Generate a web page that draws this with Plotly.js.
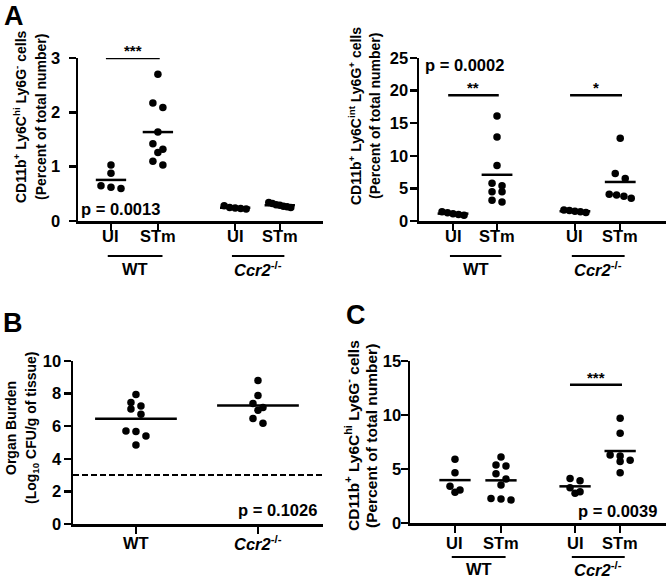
<!DOCTYPE html>
<html><head><meta charset="utf-8">
<script src="https://cdn.plot.ly/plotly-3.0.1.min.js"></script>
<style>html,body{margin:0;padding:0;background:#fff}#chart{width:666px;height:579px}</style>
</head><body><div id="chart"></div>
<script>
// ---------- DATA ----------
const catLabels = ['UI', 'STm', 'UI', 'STm'];
const groupLabels = ['WT', '<i>Ccr2</i><sup>-/-</sup>'];
const bLabels = ['WT', '<i>Ccr2</i><sup>-/-</sup>'];

// Panel A (left): CD11b+ Ly6Chi Ly6G- cells (% of total)
const a1_WT_UI  = [1.03, 0.88, 0.65, 0.62, 0.60];
const a1_WT_STm = [2.70, 2.17, 2.09, 1.64, 1.42, 1.32, 1.26, 1.10, 1.03];
const a1_KO_UI  = [0.28, 0.25, 0.24, 0.23, 0.22];
const a1_KO_STm = [0.34, 0.32, 0.30, 0.29, 0.27, 0.26, 0.25];

// Panel A (right): CD11b+ Ly6Cint Ly6G+ cells (% of total)
const a2_WT_UI  = [1.40, 1.25, 1.10, 1.00, 0.90];
const a2_WT_STm = [16.1, 12.9, 8.5, 5.8, 5.4, 4.5, 4.5, 3.2, 2.9];
const a2_KO_UI  = [1.70, 1.60, 1.50, 1.40, 1.30];
const a2_KO_STm = [12.7, 7.3, 6.5, 4.1, 4.0, 3.8, 3.5];

// Panel B: organ burden (log10 CFU/g)
const b_WT = [7.95, 7.46, 7.24, 7.06, 6.73, 5.71, 5.67, 5.40, 4.85];
const b_KO = [8.81, 7.89, 7.40, 7.14, 6.98, 6.48, 6.18];
const bDetectionLimit = 3.0;

// Panel C: CD11b+ Ly6Chi Ly6G- cells (% of total)
const c_WT_UI  = [5.90, 4.65, 3.40, 3.05, 2.85];
const c_WT_STm = [6.10, 5.37, 5.28, 4.57, 4.07, 3.52, 2.28, 2.22, 2.13];
const c_KO_UI  = [4.13, 3.92, 3.27, 2.90, 2.75];
const c_KO_STm = [9.70, 8.30, 6.30, 6.20, 5.80, 5.70, 4.65];

const pValues = ['p = 0.0013', 'p = 0.0002', 'p = 0.1026', 'p = 0.0039'];

// ---------- LAYOUT HELPERS ----------
const W = 666, H = 579;
const FONT = 'Arial, "Liberation Sans", Helvetica, sans-serif';
const px2x = p => p / W;
const px2y = p => (H - p) / H;
const bold = (size) => ({ size: size, family: FONT, color: '#000', weight: 'bold' });

const panels = [
  { ax: '',  xd: [78, 323],  yd: [58, 221],  xr: [0.283, 5.61], yr: [0, 3],  dtick: 1,
    pos: [1, 2.02, 3.7, 4.67], data: [a1_WT_UI, a1_WT_STm, a1_KO_UI, a1_KO_STm], half: 0.33,
    ticklabels: catLabels, labelY: 236, standoff: 5 },
  { ax: '2', xd: [419, 666], yd: [58, 221],  xr: [0.227, 5.84], yr: [0, 25], dtick: 5,
    pos: [1, 2, 3.77, 4.8], data: [a2_WT_UI, a2_WT_STm, a2_KO_UI, a2_KO_STm], half: 0.35,
    ticklabels: catLabels, labelY: 236, standoff: -2 },
  { ax: '3', xd: [73, 323],  yd: [361, 524], xr: [0.484, 2.533], yr: [0, 10], dtick: 2,
    pos: [1, 2], data: [b_WT, b_KO], half: 0.335,
    ticklabels: bLabels, labelY: 543, standoff: -1 },
  { ax: '4', xd: [410, 666], yd: [361, 523], xr: [0.022, 5.587], yr: [0, 15], dtick: 5,
    pos: [1, 2, 3.61, 4.59], data: [c_WT_UI, c_WT_STm, c_KO_UI, c_KO_STm], half: 0.34,
    ticklabels: catLabels, labelY: 543, standoff: -4 }
];

// simple deterministic beeswarm: rows of near-equal values spread horizontally
function swarm(vals, p) {
  const pxPerX = (p.xd[1] - p.xd[0]) / (p.xr[1] - p.xr[0]);
  const pxPerY = (p.yd[1] - p.yd[0]) / (p.yr[1] - p.yr[0]);
  const idx = vals.map((v, i) => i).sort((a, b) => vals[b] - vals[a]);
  const rows = [];
  let cur = [];
  idx.forEach(i => {
    if (cur.length && (vals[cur[0]] - vals[i]) * pxPerY > 5.5) { rows.push(cur); cur = []; }
    cur.push(i);
  });
  if (cur.length) rows.push(cur);
  const off = new Array(vals.length).fill(0);
  rows.forEach(r => {
    const n = r.length;
    const sp = n > 1 ? Math.min(10, 22 / (n - 1)) : 0;
    r.forEach((i, k) => { off[i] = (k - (n - 1) / 2) * sp / pxPerX; });
  });
  return off;
}
const mean = a => a.reduce((s, v) => s + v, 0) / a.length;

const traces = [];
const layout = {
  width: W, height: H, margin: { l: 0, r: 0, t: 0, b: 0 },
  paper_bgcolor: '#fff', plot_bgcolor: '#fff', showlegend: false,
  font: { family: FONT, color: '#000' },
  shapes: [], annotations: []
};

panels.forEach(p => {
  const xa = 'x' + p.ax, ya = 'y' + p.ax;
  p.data.forEach((vals, g) => {
    const off = swarm(vals, p);
    traces.push({ type: 'scatter', mode: 'markers', xaxis: xa, yaxis: ya,
      x: vals.map((v, i) => p.pos[g] + off[i]), y: vals,
      marker: { size: 7.5, color: '#000' }, hoverinfo: 'y' });
    const m = mean(vals);
    traces.push({ type: 'scatter', mode: 'lines', xaxis: xa, yaxis: ya,
      x: [p.pos[g] - p.half, p.pos[g] + p.half], y: [m, m],
      line: { color: '#000', width: 2.5 }, hoverinfo: 'skip' });
  });
  const xk = 'xaxis' + p.ax, yk = 'yaxis' + p.ax;
  layout[xk] = {
    domain: [px2x(p.xd[0]), px2x(p.xd[1])], range: p.xr, anchor: ya,
    showgrid: false, zeroline: false, showline: true, linecolor: '#000', linewidth: 2.5,
    ticks: 'outside', ticklen: 7, tickwidth: 2.5, tickcolor: '#000',
    tickmode: 'array', tickvals: p.pos, showticklabels: false, fixedrange: true
  };
  layout[yk] = {
    domain: [px2y(p.yd[1]), px2y(p.yd[0])], range: p.yr, anchor: xa,
    showgrid: false, zeroline: false, showline: true, linecolor: '#000', linewidth: 2.5,
    ticks: 'outside', ticklen: 7, tickwidth: 2.5, tickcolor: '#000', dtick: p.dtick, tick0: 0,
    ticklabelstandoff: p.standoff,
    tickfont: bold(16.5), fixedrange: true
  };
  // category labels under the x axis
  p.ticklabels.forEach((t, i) => {
    layout.annotations.push({ xref: xa, yref: 'paper', x: p.pos[i], y: px2y(p.labelY),
      xanchor: 'center', yanchor: 'middle', text: t, showarrow: false, font: bold(16.5) });
  });
});

// significance bars + stars
function sig(pi, c0, c1, yv, stars) {
  const p = panels[pi];
  const xr = 'x' + p.ax, yr = 'y' + p.ax;
  const x0 = p.pos[c0] - 0.11, x1 = p.pos[c1] + 0.04;
  layout.shapes.push({ type: 'line', xref: xr, yref: yr, x0: x0, x1: x1, y0: yv, y1: yv,
    line: { color: '#000', width: 2.5 } });
  layout.annotations.push({ xref: xr, yref: yr, x: (x0 + x1) / 2, y: yv, yanchor: 'bottom', yshift: -3,
    text: stars, showarrow: false, font: bold(15) });
}
sig(0, 0, 1, 3.0, '***');
sig(1, 0, 1, 19.3, '**');
sig(1, 2, 3, 19.3, '*');
sig(3, 2, 3, 12.8, '***');

// group underlines + labels (genotype)
function group(pi, c0, c1, lineY, textY, label) {
  const p = panels[pi];
  const xr = 'x' + p.ax;
  const x0 = p.pos[c0] - 0.07, x1 = p.pos[c1] + 0.1;
  layout.shapes.push({ type: 'line', xref: xr, yref: 'paper', x0: x0, x1: x1,
    y0: px2y(lineY), y1: px2y(lineY), line: { color: '#000', width: 2 } });
  layout.annotations.push({ xref: xr, yref: 'paper', x: (x0 + x1) / 2, y: px2y(textY),
    yanchor: 'middle', text: label, showarrow: false, font: bold(16.5) });
}
group(0, 0, 1, 256, 269, groupLabels[0]);
group(0, 2, 3, 256, 269, groupLabels[1]);
group(1, 0, 1, 256, 269, groupLabels[0]);
group(1, 2, 3, 256, 269, groupLabels[1]);
group(3, 0, 1, 557, 569, groupLabels[0]);
group(3, 2, 3, 557, 569, groupLabels[1]);

// detection limit (panel B)
layout.shapes.push({ type: 'line', xref: 'x3', yref: 'y3', x0: panels[2].xr[0], x1: panels[2].xr[1],
  y0: bDetectionLimit, y1: bDetectionLimit, line: { color: '#000', width: 2, dash: '6px,3px' } });

// p-values
function ptext(txt, xpx, ypx, anchor) {
  layout.annotations.push({ xref: 'paper', yref: 'paper', x: px2x(xpx), y: px2y(ypx),
    xanchor: anchor, yanchor: 'middle', text: txt, showarrow: false, font: bold(16.5) });
}
ptext(pValues[0], 79, 209, 'left');
ptext(pValues[1], 423, 65, 'left');
ptext(pValues[2], 319, 510, 'right');
ptext(pValues[3], 659, 511, 'right');

// panel letters
[['A', 14, 16], ['B', 13, 323], ['C', 356, 315]].forEach(l => {
  layout.annotations.push({ xref: 'paper', yref: 'paper', x: px2x(l[1]), y: px2y(l[2]),
    xanchor: 'center', yanchor: 'middle', text: l[0], showarrow: false, font: bold(27) });
});

// axis titles (two lines each, rotated)
function ytitle(lines, xs, ycen, size) {
  lines.forEach((t, i) => {
    layout.annotations.push({ xref: 'paper', yref: 'paper', x: px2x(xs[i]), y: px2y(ycen),
      xanchor: 'center', yanchor: 'middle', textangle: -90, text: t,
      showarrow: false, font: bold(size) });
  });
}
const tHi = 'CD11b<sup>+</sup> Ly6C<sup>hi</sup> Ly6G<sup>-</sup> cells';
const tInt = 'CD11b<sup>+</sup> Ly6C<sup>int</sup> Ly6G<sup>+</sup> cells';
const tPct = '(Percent of total number)';
ytitle([tHi, tPct], [20, 41], 117, 14);
ytitle([tInt, tPct], [355, 375], 116, 14);
ytitle(['Organ Burden', '(Log<sub>10</sub> CFU/g of tissue)'], [11, 32], 428, 14);
ytitle([tHi, tPct], [352, 371], 436, 15.5);

Plotly.newPlot('chart', traces, layout, { displayModeBar: false, staticPlot: true });
</script>
</body></html>
